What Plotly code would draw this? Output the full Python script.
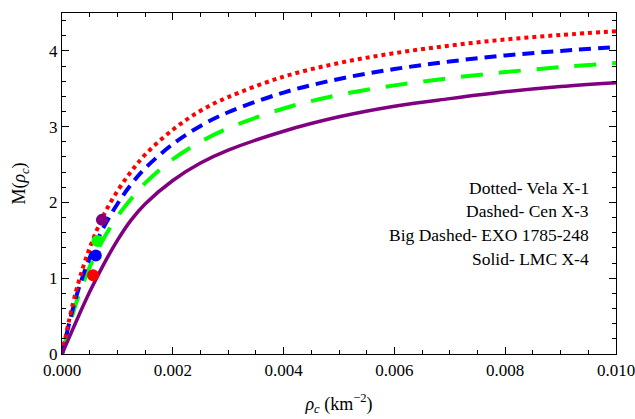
import plotly.graph_objects as go

rho_c = [0, 0.00025, 0.0005, 0.00075, 0.001, 0.00125, 0.0015, 0.002, 0.0025, 0.003,
         0.004, 0.005, 0.006, 0.007, 0.008, 0.009, 0.010]

m_vela = [0, 0.82, 1.40, 1.83, 2.15, 2.41, 2.63, 2.96, 3.21, 3.39, 3.66, 3.84, 3.97, 4.07, 4.15, 4.21, 4.26]
m_cen = [0, 0.74, 1.27, 1.67, 1.98, 2.24, 2.45, 2.77, 3.01, 3.19, 3.45, 3.63, 3.76, 3.86, 3.94, 4.00, 4.05]
m_exo = [0, 0.66, 1.15, 1.52, 1.815, 2.05, 2.255, 2.57, 2.80, 2.98, 3.24, 3.42, 3.545, 3.64, 3.72, 3.785, 3.84]
m_lmc = [0, 0.42, 0.82, 1.18, 1.50, 1.77, 1.98, 2.29, 2.52, 2.69, 2.94, 3.13, 3.27, 3.37, 3.46, 3.53, 3.58]

dot_x = [0.00056, 0.00061, 0.00064, 0.00072]
dot_y = [1.04, 1.30, 1.49, 1.77]
dot_colors = ["#ff0000", "#0000ff", "#00ff00", "#800080"]

legend_lines = ["Dotted- Vela X-1", "Dashed- Cen X-3", "Big Dashed- EXO 1785-248", "Solid- LMC X-4"]

x_ticks = [0, 0.002, 0.004, 0.006, 0.008, 0.010]
x_labels = ["0.000", "0.002", "0.004", "0.006", "0.008", "0.010"]
y_ticks = [0, 1, 2, 3, 4]

FONT = "Liberation Serif, Times New Roman, serif"

fig = go.Figure()

fig.add_trace(go.Scatter(x=rho_c, y=m_exo, mode="lines", line_shape="spline",
                         line=dict(color="#00ff00", width=4, dash="22px,16px"), showlegend=False))
fig.add_trace(go.Scatter(x=rho_c, y=m_cen, mode="lines", line_shape="spline",
                         line=dict(color="#0000ff", width=4, dash="12px,7px"), showlegend=False))
fig.add_trace(go.Scatter(x=rho_c, y=m_vela, mode="lines", line_shape="spline",
                         line=dict(color="#ff0000", width=4, dash="4px,4px"), showlegend=False))
fig.add_trace(go.Scatter(x=rho_c, y=m_lmc, mode="lines", line_shape="spline",
                         line=dict(color="#800080", width=3.5), showlegend=False))
fig.add_trace(go.Scatter(x=dot_x, y=dot_y, mode="markers",
                         marker=dict(color=dot_colors, size=12), showlegend=False))

for i, t in enumerate(legend_lines):
    fig.add_annotation(text=t, xref="paper", yref="paper", x=(591 - 62) / 554,
                       y=(354 - 188 - i * 23.5) / 341, xanchor="right", yanchor="middle",
                       showarrow=False, font=dict(family=FONT, size=17.5, color="black"))

axis_common = dict(showline=True, linecolor="black", linewidth=1.3, mirror="ticks",
                   ticks="inside", ticklen=7, tickcolor="black", tickwidth=1,
                   showgrid=False, zeroline=False, automargin=False,
                   ticklabeloverflow="allow",
                   tickfont=dict(family=FONT, size=17, color="black"))

fig.update_xaxes(range=[0, 0.010], tickvals=x_ticks, ticktext=x_labels,
                 minor=dict(dtick=0.0005, ticks="inside", ticklen=4, tickcolor="black"),
                 title=dict(text="<i>ρ</i><sub><i>c</i></sub> (km<sup>−2</sup>)",
                            font=dict(family=FONT, size=18, color="black"), standoff=18),
                 **axis_common)
fig.update_yaxes(range=[0, 4.5], tickvals=y_ticks,
                 minor=dict(dtick=0.2, ticks="inside", ticklen=4, tickcolor="black"),
                 title=dict(text="M(<i>ρ</i><sub><i>c</i></sub>)",
                            font=dict(family=FONT, size=18, color="black"), standoff=18),
                 **axis_common)

fig.update_layout(width=635, height=419, plot_bgcolor="white", paper_bgcolor="white",
                  margin=dict(l=62, r=19, t=13, b=65), showlegend=False)

fig.write_html("out.html")
